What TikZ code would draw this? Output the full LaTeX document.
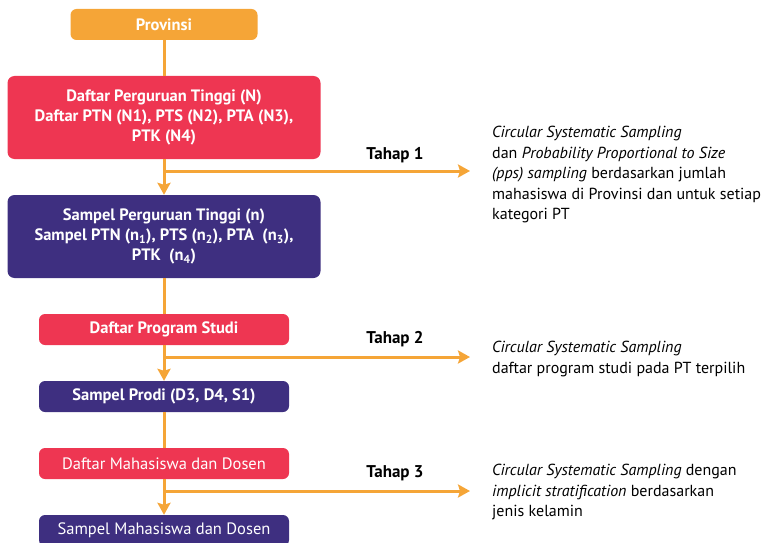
\documentclass[tikz,border=0pt]{standalone}
\usepackage{fontspec}
\setmainfont{PT Sans}
\usepackage{tikz}
\usepackage{xcolor}
\usetikzlibrary{arrows.meta, positioning}
\definecolor{orangecolor}{RGB}{245,165,55}
\definecolor{redcolor}{RGB}{238,54,82}
\definecolor{purplecolor}{RGB}{62,47,128}
\tikzstyle{topblock} = [rectangle, fill=orangecolor, text=white, font=\fontsize{16.5}{20}\selectfont\bfseries, minimum width=187pt, minimum height=31pt, rounded corners=6pt, inner sep=0pt]
\tikzstyle{bigblock} = [rectangle, text=white, font=\fontsize{16.5}{20.3}\selectfont\bfseries, align=center, minimum width=313pt, minimum height=83pt, rounded corners=7pt, inner sep=0pt]
\tikzstyle{smallblock} = [rectangle, text=white, font=\fontsize{16.5}{20}\selectfont\bfseries, minimum width=250pt, minimum height=31pt, rounded corners=6pt, inner sep=0pt]
\tikzstyle{stagelabel} = [font=\fontsize{17}{20}\selectfont\bfseries, inner sep=0pt]
\tikzstyle{note} = [font=\fontsize{16}{20.5}\selectfont, align=left, anchor=north west, inner sep=0pt]
\tikzstyle{line} = [orangecolor, line width=3pt]
\tikzstyle{arrow} = [-{Stealth[length=12pt, width=13pt, inset=2pt]}, orangecolor, line width=3pt]

\begin{document}
\begin{tikzpicture}[x=1pt, y=-1pt]
    \useasboundingbox (0,0) rectangle (766,543);

    % Flow of blocks
    \node[topblock] (prov) at (164, 24.5) {Provinsi};
    \node[bigblock, fill=redcolor] (daftarPT) at (164, 117.5) {Daftar Perguruan Tinggi (N)\\ Daftar PTN (N1), PTS (N2), PTA (N3),\\ PTK (N4)};
    \node[bigblock, fill=purplecolor] (sampelPT) at (164, 236.5) {Sampel Perguruan Tinggi (n)\\ Sampel PTN (n\textsubscript{1}), PTS (n\textsubscript{2}), PTA~ (n\textsubscript{3}),\\ PTK~ (n\textsubscript{4})};
    \node[smallblock, fill=redcolor] (daftarProdi) at (164, 329.5) {Daftar Program Studi};
    \node[smallblock, fill=purplecolor] (sampelProdi) at (164, 396.5) {Sampel Prodi (D3, D4, S1)};
    \node[smallblock, fill=redcolor, font=\fontsize{16.5}{20}\selectfont] (daftarMhs) at (164, 463.5) {Daftar Mahasiswa dan Dosen};
    \node[smallblock, fill=purplecolor, font=\fontsize{16.5}{20}\selectfont] (sampelMhs) at (164, 530.5) {Sampel Mahasiswa dan Dosen};

    % Branch points
    \coordinate (branch1) at (164, 171);
    \coordinate (branch2) at (164, 357);
    \coordinate (branch3) at (164, 491);
    \coordinate (end1) at (470, 171);
    \coordinate (end2) at (470, 357);
    \coordinate (end3) at (470, 491);

    \draw[line] (prov) -- (daftarPT);
    \draw[arrow] (daftarPT) -- (sampelPT);
    \draw[line] (sampelPT) -- (daftarProdi);
    \draw[arrow] (daftarProdi) -- (sampelProdi);
    \draw[line] (sampelProdi) -- (daftarMhs);
    \draw[arrow] (daftarMhs) -- (sampelMhs);

    \draw[arrow] (branch1) -- (end1);
    \draw[arrow] (branch2) -- (end2);
    \draw[arrow] (branch3) -- (end3);

    % Stage labels
    \node[stagelabel] (tahap1) at (395, 155) {Tahap 1};
    \node[stagelabel] (tahap2) at (395, 339) {Tahap 2};
    \node[stagelabel] (tahap3) at (395, 473) {Tahap 3};

    % Sampling notes
    \node[note] (note1) at (492, 126) {\textit{Circular Systematic Sampling}\\ dan \textit{Probability Proportional to Size}\\ \textit{(pps) sampling} berdasarkan jumlah\\ mahasiswa di Provinsi dan untuk setiap\\ kategori PT};
    \node[note] (note2) at (492, 341) {\textit{Circular Systematic Sampling}\\ daftar program studi pada PT terpilih};
    \node[note] (note3) at (492, 464) {\textit{Circular Systematic Sampling} dengan\\ \textit{implicit stratification} berdasarkan\\ jenis kelamin};
\end{tikzpicture}
\end{document}
